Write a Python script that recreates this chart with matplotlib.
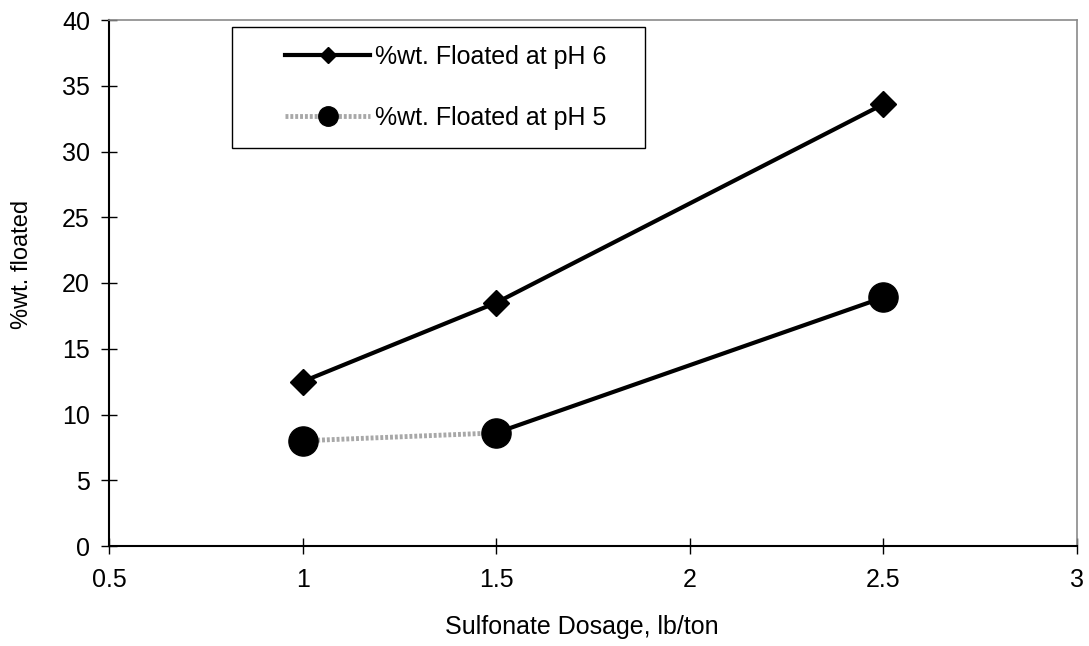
import matplotlib
matplotlib.use("Agg")
import matplotlib.pyplot as plt
from matplotlib.lines import Line2D
from matplotlib.patches import Rectangle

plt.rcParams['font.family'] = ['Liberation Sans', 'DejaVu Sans']

dosage = [1.0, 1.5, 2.5]
ph6 = [12.5, 18.5, 33.6]
ph5 = [8.0, 8.6, 18.9]
label6 = "%wt. Floated at pH 6"
label5 = "%wt. Floated at pH 5"

W, H = 1089, 646
fig = plt.figure(figsize=(W / 100, H / 100), dpi=100)
ax = fig.add_axes([109 / W, 1 - 546 / H, (1077 - 109) / W, (546 - 20) / H])

grey_style = dict(color='#a8a8a8', lw=3.5, ls=(0, (0.6, 0.4)))

ax.plot(dosage, ph6, color='black', lw=3, marker='D', ms=13, zorder=3)
# pH 5: grey patterned first segment, black later segment
ax.plot(dosage[:2], ph5[:2], zorder=2, **grey_style)
ax.plot(dosage[1:], ph5[1:], color='black', lw=3, zorder=2)
ax.plot(dosage, ph5, ls='none', marker='o', ms=21, color='black', zorder=4)

ax.set_xlim(0.5, 3)
ax.set_ylim(0, 40)
ax.set_xticks([0.5, 1, 1.5, 2, 2.5, 3])
ax.set_xticklabels(['0.5', '1', '1.5', '2', '2.5', '3'])
ax.set_yticks(range(0, 41, 5))
ax.tick_params(direction='inout', length=11.5, width=1, labelsize=18, colors='black')
ax.tick_params(axis='x', pad=10)
ax.tick_params(axis='y', pad=8)
for s in ['left', 'bottom']:
    ax.spines[s].set_linewidth(1.5)
for s in ['top', 'right']:
    ax.spines[s].set_color('#8a8a8a')
    ax.spines[s].set_linewidth(1.2)

fig.text(582 / W, 1 - 627 / H, 'Sulfonate Dosage, lb/ton', fontsize=18,
         ha='center', va='center')
fig.text(22 / W, 1 - 264 / H, '%wt. floated', fontsize=17, rotation=90,
         ha='center', va='center')

# legend frame
fig.patches.append(Rectangle((232 / W, 1 - 148 / H), (645 - 232) / W, (148 - 27) / H,
                             transform=fig.transFigure, facecolor='white',
                             edgecolor='black', lw=1, zorder=5))

handles = [
    Line2D([], [], color='black', lw=3, marker='D', ms=8),
    Line2D([], [], marker='o', ms=14, markerfacecolor='black',
           markeredgecolor='black', **grey_style),
]
leg = fig.legend(handles, [label6, label5], loc='center left',
                 bbox_to_anchor=(285 / W, 1 - 87.5 / H), fontsize=18, frameon=False,
                 handlelength=3.4, labelspacing=1.48, borderpad=0,
                 handletextpad=0.2, borderaxespad=0)
leg.set_zorder(6)

fig.savefig('out.png', dpi=100)
